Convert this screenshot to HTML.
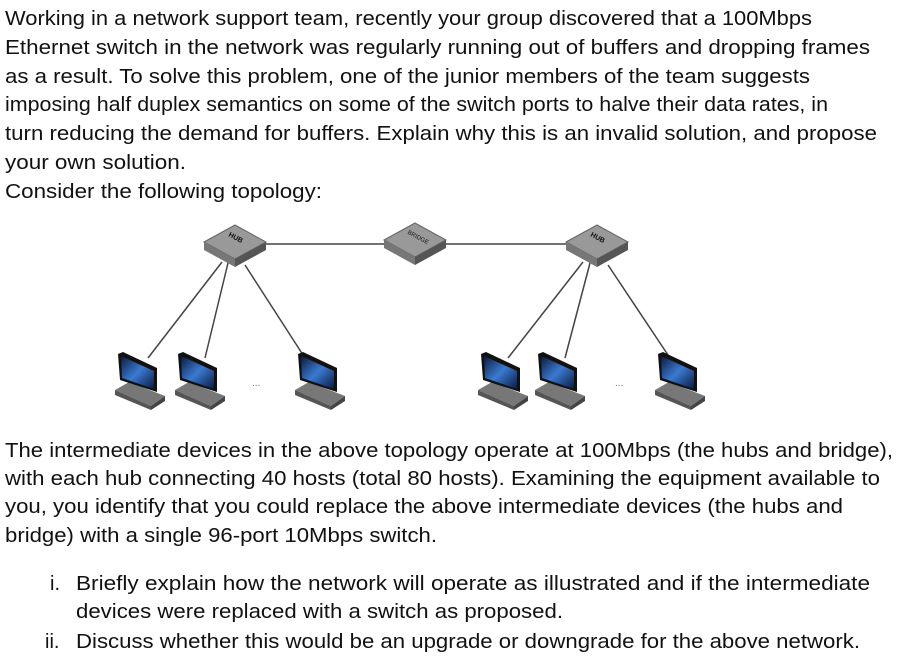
<!DOCTYPE html>
<html><head><meta charset="utf-8"><style>
html,body{margin:0;padding:0;background:#fff;}
svg{display:block;}
text{font-family:"Liberation Sans",sans-serif;font-size:20px;fill:#111;}
</style></head><body>
<svg width="911" height="671" viewBox="0 0 911 671" xmlns="http://www.w3.org/2000/svg">
<defs>
<linearGradient id="scr" x1="0" y1="0" x2="1" y2="1">
<stop offset="0" stop-color="#0a1a40"/><stop offset="0.5" stop-color="#3a7ad0"/><stop offset="1" stop-color="#0a1a40"/>
</linearGradient>
<g id="host">
<polygon points="0,38 14,30 50,44 36,54" fill="#777"/>
<polygon points="0,38 36,54 36,58 0,43" fill="#555"/>
<polygon points="36,54 50,44 50,49 36,58" fill="#444"/>
<polygon points="3,2 8,0 42,16 42,40 5,28" fill="#111"/>
<polygon points="6,4 39,19 39,37 7,26" fill="url(#scr)"/>
</g>
<g id="dev">
<polygon points="-31,0 0,-17 31,0 0,17" fill="#999" stroke="#666"/>
<polygon points="-31,0 0,17 0,25 -31,8" fill="#777"/>
<polygon points="0,17 31,0 31,8 0,25" fill="#555"/>
</g>
</defs>
<g font-size="20">
<text x="5" y="25" textLength="807" lengthAdjust="spacingAndGlyphs">Working in a network support team, recently your group discovered that a 100Mbps</text>
<text x="5" y="54" textLength="865" lengthAdjust="spacingAndGlyphs">Ethernet switch in the network was regularly running out of buffers and dropping frames</text>
<text x="5" y="83" textLength="805" lengthAdjust="spacingAndGlyphs">as a result.  To solve this problem, one of the junior members of the team suggests</text>
<text x="5" y="111" textLength="823" lengthAdjust="spacingAndGlyphs">imposing half duplex semantics on some of the switch ports to halve their data rates, in</text>
<text x="5" y="140" textLength="872" lengthAdjust="spacingAndGlyphs">turn reducing the demand for buffers.  Explain why this is an invalid solution, and propose</text>
<text x="5" y="169" textLength="181" lengthAdjust="spacingAndGlyphs">your own solution.</text>
<text x="5" y="198" textLength="317" lengthAdjust="spacingAndGlyphs">Consider the following topology:</text>

<text x="5" y="457" textLength="888" lengthAdjust="spacingAndGlyphs">The intermediate devices in the above topology operate at 100Mbps (the hubs and bridge),</text>
<text x="5" y="485" textLength="875" lengthAdjust="spacingAndGlyphs">with each hub connecting 40 hosts (total 80 hosts).  Examining the equipment available to</text>
<text x="5" y="513" textLength="838" lengthAdjust="spacingAndGlyphs">you, you identify that you could replace the above intermediate devices (the hubs and</text>
<text x="5" y="542" textLength="432" lengthAdjust="spacingAndGlyphs">bridge) with a single 96-port 10Mbps switch.</text>

<text x="50" y="590">i.</text>
<text x="76" y="590" textLength="794" lengthAdjust="spacingAndGlyphs">Briefly explain how the network will operate as illustrated and if the intermediate</text>
<text x="76" y="618" textLength="487" lengthAdjust="spacingAndGlyphs">devices were replaced with a switch as proposed.</text>
<text x="45" y="648">ii.</text>
<text x="76" y="648" textLength="784" lengthAdjust="spacingAndGlyphs">Discuss whether this would be an upgrade or downgrade for the above network.</text>
</g>

<g stroke="#444" stroke-width="1.5">
<line x1="235" y1="244" x2="597" y2="244"/>
<line x1="222" y1="262" x2="148" y2="358"/>
<line x1="228" y1="263" x2="205" y2="358"/>
<line x1="245" y1="265" x2="305" y2="358"/>
<line x1="583" y1="262" x2="508" y2="358"/>
<line x1="590" y1="263" x2="565" y2="358"/>
<line x1="608" y1="265" x2="670" y2="358"/>
</g>
<use href="#dev" x="235" y="242"/>
<use href="#dev" x="415" y="240"/>
<use href="#dev" x="597" y="242"/>
<text x="226" y="240" font-size="7" font-weight="bold" fill="#222" transform="rotate(28 235 242)" style="font-size:7px">HUB</text>
<text x="405" y="238" font-size="6" fill="#333" transform="rotate(28 415 240)" style="font-size:6px">BRIDGE</text>
<text x="588" y="240" font-size="7" font-weight="bold" fill="#222" transform="rotate(28 597 242)" style="font-size:7px">HUB</text>
<use href="#host" x="115" y="352"/>
<use href="#host" x="175" y="352"/>
<use href="#host" x="295" y="352"/>
<use href="#host" x="478" y="352"/>
<use href="#host" x="535" y="352"/>
<use href="#host" x="655" y="352"/>
<text x="252" y="386" style="font-size:10px;fill:#777">...</text>
<text x="615" y="386" style="font-size:10px;fill:#777">...</text>
</svg>
</body></html>
